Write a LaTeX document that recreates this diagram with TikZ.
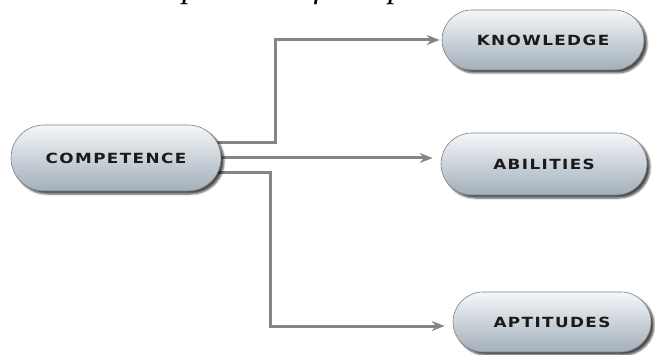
\documentclass[tikz,border=0pt]{standalone}
\usepackage{fontspec}
\setmainfont{Liberation Serif}
\newfontfamily\lblfont[LetterSpace=10,FakeStretch=1.2]{DejaVu Sans Bold}
\usetikzlibrary{shapes.misc,arrows.meta,backgrounds,shadows.blur}
\definecolor{nodetop}{HTML}{F5F7F9}
\definecolor{nodebot}{HTML}{A2AFBA}
\definecolor{nodeedge}{HTML}{7A8288}
\definecolor{connc}{HTML}{858585}
\definecolor{txtc}{HTML}{1A1A1A}
\tikzset{
  capsule/.style={rounded rectangle, draw=nodeedge, line width=0.6pt,
    top color=nodetop, bottom color=nodebot, middle color=nodetop!50!nodebot,
    text=txtc, font=\lblfont\fontsize{14}{16}\selectfont, inner sep=0pt,
    blur shadow={shadow xshift=3pt, shadow yshift=-3pt, shadow blur steps=6, shadow opacity=70}},
  connline/.style={draw=connc, line width=3pt, -{Stealth[length=13pt,width=10pt]}},
}
\begin{document}
\begin{tikzpicture}[x=1pt,y=-1pt]
\useasboundingbox (0,0) rectangle (655,355);
\clip (0,0) rectangle (655,355);
\node[anchor=base west, font=\itshape\fontsize{34}{38}\selectfont, inner sep=0pt] (title) at (118,-2) {Components of competence};
\node[capsule, minimum width=210pt, minimum height=66pt] (comp) at (116,158) {COMPETENCE};
\node[capsule, minimum width=202pt, minimum height=60pt] (know) at (543,40) {KNOWLEDGE};
\node[capsule, minimum width=206pt, minimum height=62pt] (abil) at (544,164) {ABILITIES};
\node[capsule, minimum width=198pt, minimum height=60pt] (apt) at (552,322) {APTITUDES};
\coordinate (j1) at (275,143);
\coordinate (j3) at (270,173);
\begin{scope}[on background layer]
\draw[connline, shorten >=2pt] ([yshift=15pt]comp.center) -- (j1) |- (know.west);
\draw[connline, shorten >=8pt] (comp.center) -- (comp.center -| abil.west);
\draw[connline, shorten >=8pt] ([yshift=-15pt]comp.center) -- (j3) |- ([yshift=-4pt]apt.west);
\end{scope}
\end{tikzpicture}
\end{document}
